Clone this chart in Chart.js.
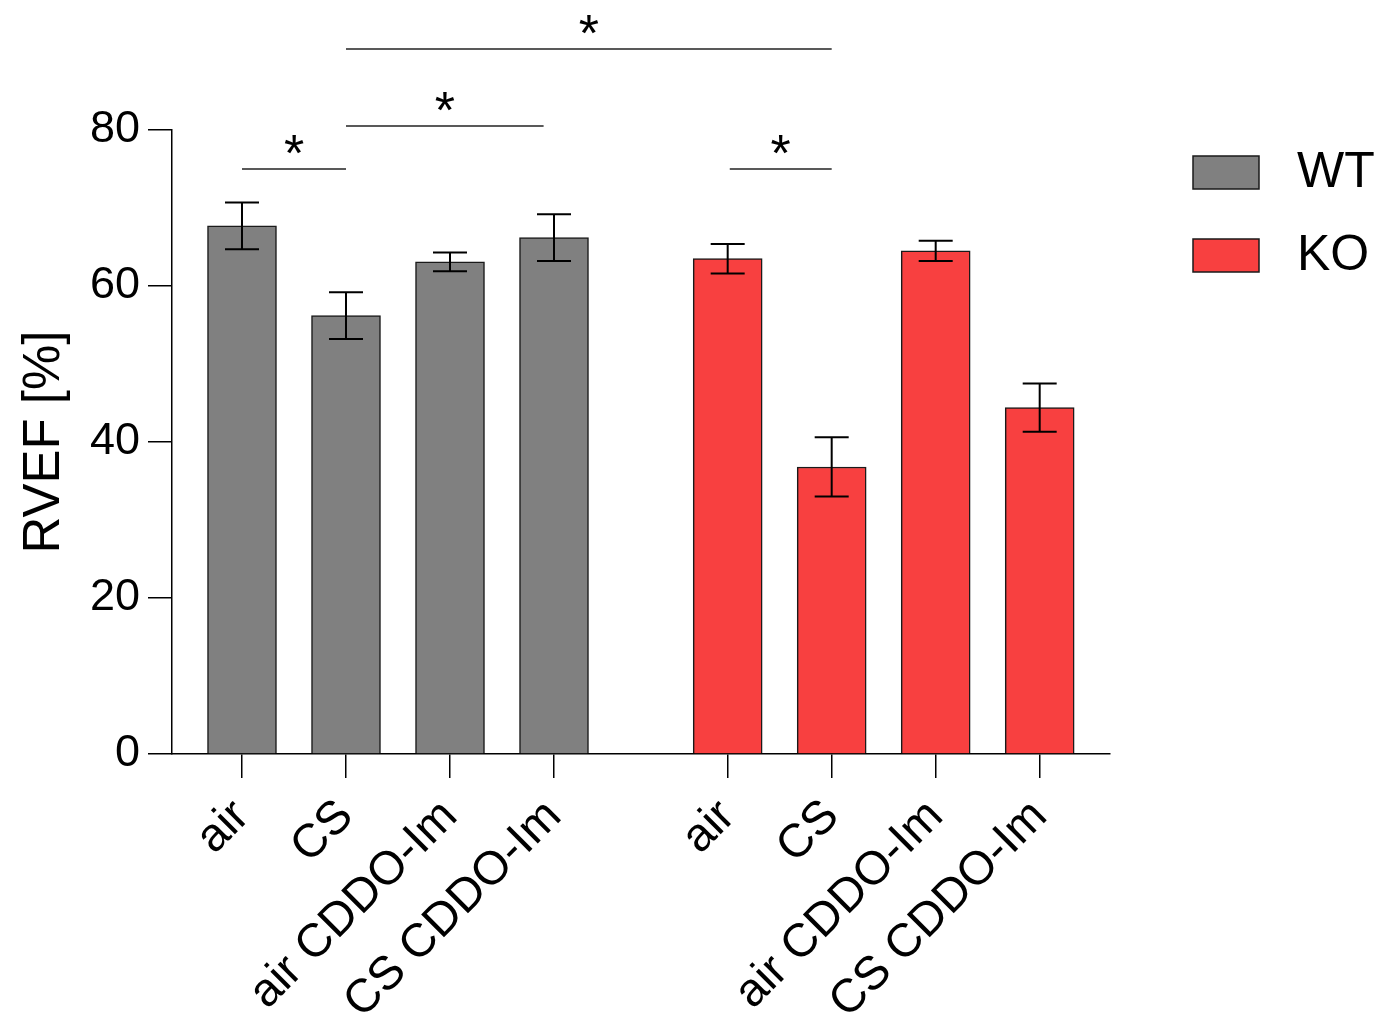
<!DOCTYPE html>
<html>
<head>
<meta charset="utf-8">
<script src="https://cdn.jsdelivr.net/npm/chart.js@4.4.1/dist/chart.umd.min.js"></script>
<style>
  html, body { margin: 0; padding: 0; background: #ffffff; }
  #wrap { width: 1397px; height: 1019px; position: relative; }
</style>
</head>
<body>
<div id="wrap"><canvas id="rvef-chart" width="1397" height="1019"></canvas></div>
<script>
// groups and conditions
var groupNames = ['WT', 'KO'];
var conditions = ['air', 'CS', 'air CDDO-Im', 'CS CDDO-Im'];

// bar heights (RVEF %) and error (SEM)
var wtValues = [67.7, 56.2, 63.1, 66.2];
var wtErrors = [3.0, 3.0, 1.2, 3.0];
var koValues = [63.5, 36.8, 64.5, 44.4];
var koErrors = [1.9, 3.8, 1.3, 3.1];

// x positions of bars (KO group set apart with a gap)
var wtPositions = [0, 1, 2, 3];
var koPositions = [4.67, 5.67, 6.67, 7.67];

var yTicks = [0, 20, 40, 60, 80];

// significance brackets: [xFrom, xTo, yLevel, label]
var brackets = [
    [0, 1, 75, '*'],
    [1, 2.9, 80.5, '*'],
    [1, 5.67, 90.4, '*'],
    [4.69, 5.67, 75, '*']
];

var colorWT = '#808080';
var colorKO = '#f84040';
var fontName = "'Liberation Sans', Arial, sans-serif";

function toPoints(xs, ys) {
    var pts = [];
    for (var i = 0; i < xs.length; i++) {
        pts.push({ x: xs[i], y: ys[i] });
    }
    return pts;
}

var allPositions = wtPositions.concat(koPositions);
var allLabels = conditions.concat(conditions);

// error bars + brackets + legend
var extrasPlugin = {
    id: 'extras',
    afterDatasetsDraw: function (chart) {
        let ctx = chart.ctx;
        let xs = chart.scales.x;
        let ys = chart.scales.y;
        let sets = [[wtPositions, wtValues, wtErrors], [koPositions, koValues, koErrors]];

        ctx.save();
        ctx.strokeStyle = '#000000';
        ctx.lineWidth = 2;
        sets.forEach(function (s) {
            for (let i = 0; i < s[0].length; i++) {
                let px = xs.getPixelForValue(s[0][i]);
                let top = ys.getPixelForValue(s[1][i] + s[2][i]);
                let bot = ys.getPixelForValue(s[1][i] - s[2][i]);
                ctx.beginPath();
                ctx.moveTo(px, top);
                ctx.lineTo(px, bot);
                ctx.moveTo(px - 17, top);
                ctx.lineTo(px + 17, top);
                ctx.moveTo(px - 17, bot);
                ctx.lineTo(px + 17, bot);
                ctx.stroke();
            }
        });

        // brackets
        ctx.lineWidth = 1.5;
        ctx.strokeStyle = '#222222';
        ctx.fillStyle = '#000000';
        ctx.font = '52px ' + fontName;
        ctx.textAlign = 'center';
        ctx.textBaseline = 'alphabetic';
        brackets.forEach(function (b) {
            let x1 = xs.getPixelForValue(b[0]);
            let x2 = xs.getPixelForValue(b[1]);
            let y = ys.getPixelForValue(b[2]);
            ctx.beginPath();
            ctx.moveTo(x1, y);
            ctx.lineTo(x2, y);
            ctx.stroke();
            ctx.fillText(b[3], (x1 + x2) / 2, y + 2);
        });

        // legend
        let legendColors = [colorWT, colorKO];
        ctx.font = '50px ' + fontName;
        ctx.textAlign = 'left';
        ctx.textBaseline = 'middle';
        for (let i = 0; i < groupNames.length; i++) {
            let ly = 156 + i * 83;
            ctx.fillStyle = legendColors[i];
            ctx.fillRect(1193, ly, 66, 33);
            ctx.strokeStyle = '#1a1a1a';
            ctx.lineWidth = 1.5;
            ctx.strokeRect(1193, ly, 66, 33);
            ctx.fillStyle = '#000000';
            ctx.fillText(groupNames[i], 1297, ly + 17);
        }
        ctx.restore();
    }
};

let ctx = document.getElementById('rvef-chart').getContext('2d');

let chart = new Chart(ctx, {
    type: 'bar',
    data: {
        datasets: [{
            label: groupNames[0],
            data: toPoints(wtPositions, wtValues),
            backgroundColor: colorWT,
            borderColor: '#1a1a1a',
            borderWidth: 1.5,
            barThickness: 69,
            grouped: false
        }, {
            label: groupNames[1],
            data: toPoints(koPositions, koValues),
            backgroundColor: colorKO,
            borderColor: '#1a1a1a',
            borderWidth: 1.5,
            barThickness: 69,
            grouped: false
        }]
    },
    options: {
        responsive: false,
        animation: false,
        devicePixelRatio: 1,
        layout: {
            padding: { top: 130, right: 287, left: 0, bottom: 0 }
        },
        scales: {
            x: {
                type: 'linear',
                min: -0.673,
                max: 8.346,
                offset: false,
                afterBuildTicks: function (axis) {
                    axis.ticks = allPositions.map(function (v) { return { value: v }; });
                },
                afterFit: function (axis) {
                    axis.height = 1019 - 754;
                },
                ticks: {
                    autoSkip: false,
                    minRotation: 45,
                    maxRotation: 45,
                    padding: 11,
                    color: '#000000',
                    font: { family: fontName, size: 47 },
                    callback: function (value) {
                        let idx = allPositions.indexOf(value);
                        return idx >= 0 ? allLabels[idx] : '';
                    }
                },
                grid: {
                    offset: false,
                    drawOnChartArea: false,
                    drawTicks: true,
                    tickLength: 24,
                    color: '#000000',
                    lineWidth: 1.5
                },
                border: { display: true, color: '#000000', width: 1.5 }
            },
            y: {
                min: 0,
                max: 80,
                afterBuildTicks: function (axis) {
                    axis.ticks = yTicks.map(function (v) { return { value: v }; });
                },
                afterFit: function (axis) {
                    axis.width = 172;
                },
                ticks: {
                    padding: 8,
                    color: '#000000',
                    font: { family: fontName, size: 45 }
                },
                grid: {
                    drawOnChartArea: false,
                    drawTicks: true,
                    tickLength: 24,
                    color: '#000000',
                    lineWidth: 1.5
                },
                border: { display: true, color: '#000000', width: 1.5 },
                title: {
                    display: true,
                    text: 'RVEF [%]',
                    color: '#000000',
                    font: { family: fontName, size: 51 },
                    padding: { top: 14, bottom: 0 }
                }
            }
        },
        plugins: {
            legend: { display: false },
            tooltip: { enabled: false }
        }
    },
    plugins: [extrasPlugin]
});
</script>
</body>
</html>
